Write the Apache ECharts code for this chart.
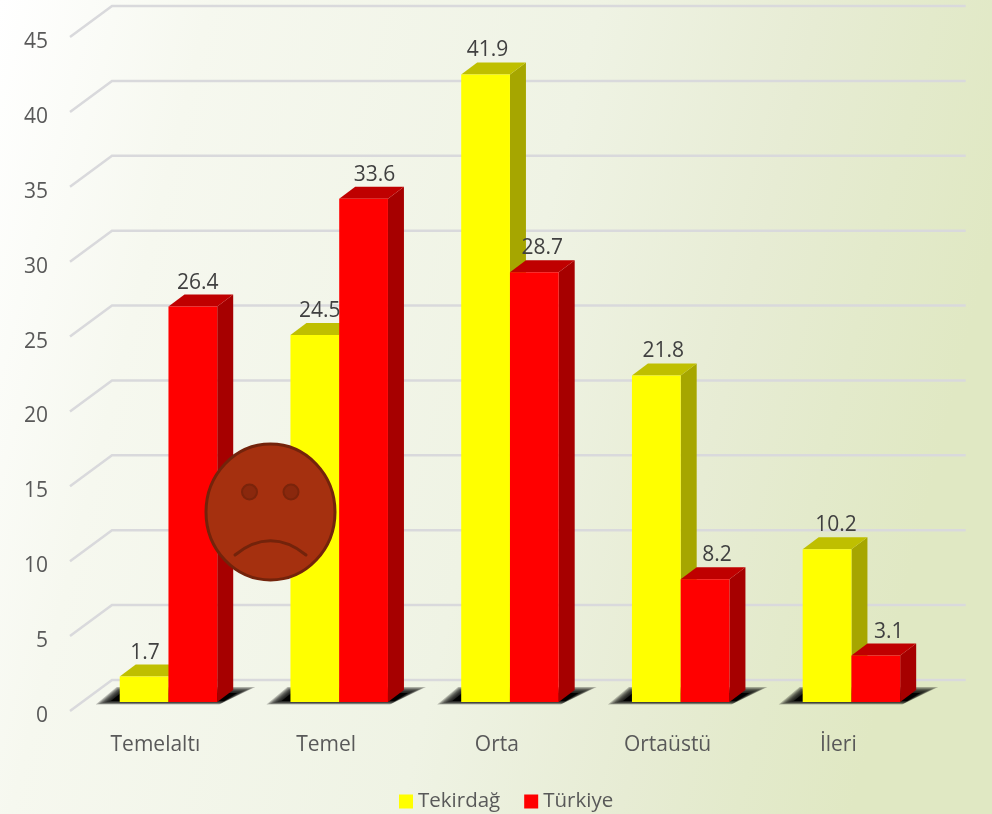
<!DOCTYPE html>
<html><head><meta charset="utf-8">
<style>html,body{margin:0;padding:0;background:#fff}#c{width:992px;height:814px}</style>
<script src="https://cdn.jsdelivr.net/npm/echarts@6/dist/echarts.min.js"></script>
</head><body><div id="c"></div>
<script>
const categories = ['Temelaltı','Temel','Orta','Ortaüstü','İleri'];
const tekirdag = [1.7,24.5,41.9,21.8,10.2];
const turkiye = [26.4,33.6,28.7,8.2,3.1];
const yTicks = [0,5,10,15,20,25,30,35,40,45];

const FONT = '"Open Sans", sans-serif';
const WALL = {dx:42, dy:-31};
const BAR = {shiftX:13.1, shiftY:-9, band:0.2855, dx:16, dy:-12};
const LABEL_NUDGE = {'Tekirdağ':[1,5,2,7,9], 'Türkiye':[5,11,8,12,13]};

function poly(points, fill, z2){
  return {type:'polygon', shape:{points}, style:{fill}, z2};
}
function barSeries(name, values, front, top, side, side01){
  return {
    name, type:'custom', coordinateSystem:'cartesian2d', z:5, clip:false,
    itemStyle:{color:front},
    encode:{x:0,y:1},
    data: values.map((v,i)=>[i,v]),
    renderItem(params, api){
      const i = api.value(0), v = api.value(1);
      const t = api.coord([i,v]), b = api.coord([i,0]);
      const w = api.size([1,0])[0]*BAR.band;
      const x0 = t[0]+BAR.shiftX+(side01-1)*w, x1 = x0+w;
      const yt = t[1]+BAR.shiftY, yb = b[1]+BAR.shiftY;
      const {dx,dy} = BAR;
      return {type:'group', children:[
        poly([[x1,yt],[x1+dx,yt+dy],[x1+dx,yb+dy],[x1,yb]], side, 1),
        poly([[x0,yt],[x0+dx,yt+dy],[x1+dx,yt+dy],[x1,yt]], top, 2),
        {type:'rect', shape:{x:x0,y:yt,width:w,height:yb-yt}, style:{fill:front}, z2:3},
        {type:'text', z2:10, style:{text:v.toFixed(1), x:(x0+x1)/2+LABEL_NUDGE[name][i], y:yt-24,
          align:'center', verticalAlign:'middle', fill:'#404040', font:'21px '+FONT}}
      ]};
    }
  };
}
const chart = echarts.init(document.getElementById('c'), null, {renderer:'canvas', width:992, height:814});
chart.setOption({
  animation:false,
  backgroundColor:{type:'linear',x:0,y:0,x2:1,y2:0.3,colorStops:[
    {offset:0,color:'#ffffff'},{offset:0.2,color:'#F6F8EF'},{offset:0.57,color:'#EFF3E4'},
    {offset:0.78,color:'#E7ECD4'},{offset:0.89,color:'#E3EACB'},{offset:1,color:'#E0E8C3'}]},
  grid:{left:70,top:37,width:853.7,height:674,containLabel:false},
  legend:{
    data:['Tekirdağ','Türkiye'], left:394, top:786, icon:'rect', itemWidth:14, itemHeight:14, itemGap:24,
    textStyle:{color:'#595959', fontFamily:FONT, fontSize:20.5}, selectedMode:false
  },
  xAxis:{type:'category', data:categories, axisLine:{show:false}, axisTick:{show:false}, splitLine:{show:false},
    axisLabel:{color:'#595959', fontFamily:FONT, fontSize:21, margin:24}},
  yAxis:{type:'value', min:0, max:45, interval:5, axisLine:{show:false}, axisTick:{show:false}, splitLine:{show:false},
    axisLabel:{color:'#595959', fontFamily:FONT, fontSize:21, margin:22, verticalAlign:'top', lineHeight:10}},
  series:[
    {type:'custom', coordinateSystem:'cartesian2d', z:1, silent:true, clip:false,
      data:yTicks.map(v=>[0,v]), encode:{x:0,y:1},
      renderItem(params, api){
        const y = api.coord([0,api.value(1)])[1];
        const L = params.coordSys.x, R = L+params.coordSys.width;
        const s = {stroke:'#D9D9DC', lineWidth:2.5, fill:null};
        return {type:'group', children:[
          {type:'polyline', shape:{points:[[L,y],[L+WALL.dx,y+WALL.dy],[R+WALL.dx,y+WALL.dy]]}, style:s}
        ]};
      }},
    {type:'custom', coordinateSystem:'cartesian2d', z:2, silent:true, clip:false,
      data:categories.map((c,i)=>[i,0]), encode:{x:0,y:1},
      renderItem(params, api){
        const c = api.coord([api.value(0),0]);
        const w = api.size([1,0])[0]*BAR.band;
        const x0 = c[0]+BAR.shiftX-w, x1 = c[0]+BAR.shiftX+w, yb = c[1]+BAR.shiftY;
        const layers = [];
        const N = 8;
        for (let k = 0; k < N; k++) {
          const u = k/(N-1);
          const lerp = (a,b)=>a+(b-a)*u;
          layers.push({type:'polygon', z2:k, shape:{points:[
            [x0+lerp(-24,-9),yb+lerp(2.5,-1)],[x0+lerp(-3,1),yb+lerp(-15,-9)],
            [x1+lerp(38,20),yb+lerp(-15,-9)],[x1+lerp(2,7),yb+lerp(2.5,-1)]]},
            style:{fill:k===N-1?'#000':'rgba(0,0,0,0.24)'}});
        }
        return {type:'group', children:layers};
      }},
    barSeries('Tekirdağ', tekirdag, '#FFFF00', '#BFBF00', '#A6A600', 0),
    barSeries('Türkiye', turkiye, '#FF0000', '#BF0000', '#A60000', 1)
  ],
  graphic:[
    {type:'ellipse', z:100, shape:{cx:270.5,cy:512,rx:64.5,ry:68}, style:{fill:'#A5300F',stroke:'#73230B',lineWidth:3}},
    {type:'circle', z:101, shape:{cx:249.5,cy:492,r:7.5}, style:{fill:'#8A280D',stroke:'#7A240B',lineWidth:2}},
    {type:'circle', z:101, shape:{cx:291,cy:492,r:7.5}, style:{fill:'#8A280D',stroke:'#7A240B',lineWidth:2}},
    {type:'bezierCurve', z:101, shape:{x1:235,y1:555,cpx1:258,cpy1:536,cpx2:283,cpy2:536,x2:306,y2:555},
      style:{stroke:'#73230B',lineWidth:3,lineCap:'round',fill:null}}
  ]
});
</script></body></html>
